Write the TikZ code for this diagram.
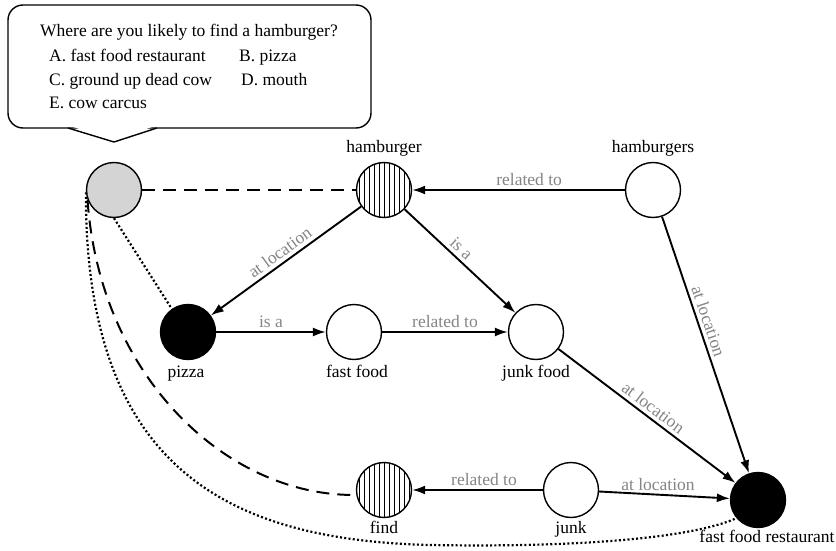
\documentclass[tikz,border=0pt]{standalone}
\usepackage{fontspec}
\setmainfont{Liberation Serif}
\usetikzlibrary{arrows.meta}
\begin{document}
\begin{tikzpicture}[x=1pt,y=-1pt,
  font=\fontsize{17.5}{21}\selectfont,
  cnode/.style={circle,draw,line width=1.4pt,minimum size=55pt,inner sep=0pt,fill=white},
  hatch/.style={cnode,path picture={\foreach \k in {-25,-20,...,25}{\draw[line width=0.7pt] ([xshift=\k pt]path picture bounding box.north) -- ([xshift=\k pt]path picture bounding box.south);}}},
  qnode/.style={cnode,fill=black!17},
  bnode/.style={cnode,fill=black},
  nlbl/.style={anchor=base,inner sep=0pt},
  qtxt/.style={anchor=base west,inner sep=0pt},
  elbl/.style={text=black!48,inner sep=3.5pt},
  arr/.style={line width=1.9pt,-{Latex[length=13pt,width=9pt]}},
  dsh/.style={line width=2pt,dash pattern=on 13pt off 8pt},
  dots/.style={line width=2.2pt,dash pattern=on 2pt off 2.3pt},
]
\useasboundingbox (0,0) rectangle (836,551);

% speech bubble
\draw[line width=1.4pt,rounded corners=15pt] (8,5) rectangle (371,128);
\fill[white] (70,126) -- (155,126) -- (114,140) -- cycle;
\draw[line width=1.4pt,line join=miter] (68,128) -- (114,142) -- (157,128);
\node[qtxt] (qline) at (40,37) {Where are you likely to find a hamburger?};
\node[qtxt] (optA) at (49,62) {A. fast food restaurant};
\node[qtxt] (optB) at (239,62) {B. pizza};
\node[qtxt] (optC) at (49,85) {C. ground up dead cow};
\node[qtxt] (optD) at (241,85) {D. mouth};
\node[qtxt] (optE) at (49,108) {E. cow carcus};

% nodes
\node[qnode] (q) at (114,190) {};
\node[hatch] (hamburger) at (384,190) {};
\node[cnode] (hamburgers) at (653,190) {};
\node[bnode] (pizza) at (188,332) {};
\node[cnode] (fastfood) at (354,332) {};
\node[cnode] (junkfood) at (536,332) {};
\node[hatch] (find) at (384,490) {};
\node[cnode] (junk) at (571,490) {};
\node[bnode] (ffr) at (758,500) {};

% node labels
\node[nlbl] (hamburgerL) at (384,152) {hamburger};
\node[nlbl] (hamburgersL) at (653,152) {hamburgers};
\node[nlbl] (pizzaL) at (186,377) {pizza};
\node[nlbl] (fastfoodL) at (357,377) {fast food};
\node[nlbl] (junkfoodL) at (536,377) {junk food};
\node[nlbl] (findL) at (384,533) {find};
\node[nlbl] (junkL) at (571,533) {junk};
\node[nlbl] (ffrL) at (767,542) {fast food restaurant};

% relations
\draw[arr] (hamburgers) -- node[elbl,above,pos=0.45]{related to} (hamburger);
\draw[arr] (hamburger) -- node[elbl,sloped,above]{at location} (pizza);
\draw[arr] (hamburger) -- node[elbl,sloped,above,pos=0.45]{is a} (junkfood);
\draw[arr] (pizza) -- node[elbl,above]{is a} (fastfood);
\draw[arr] (fastfood) -- node[elbl,above]{related to} (junkfood);
\draw[arr] (hamburgers) -- node[elbl,sloped,above,pos=0.42]{at location} (ffr);
\draw[arr] (junkfood) -- node[elbl,sloped,above]{at location} (ffr);
\draw[arr] (junk) -- node[elbl,above,pos=0.45]{related to} (find);
\draw[arr] (junk) -- node[elbl,above,pos=0.45]{at location} (ffr);

% question links
\draw[dsh] (q) -- (hamburger);
\draw[dots] (q.south) -- (pizza.125);
\draw[dsh] (q.200) .. controls (100,380) and (230,497) .. (find.190);
\draw[dots] (q.185) .. controls (85,470) and (230,540) .. (430,545) .. controls (600,548) and (700,535) .. (ffr.220);
\end{tikzpicture}
\end{document}
